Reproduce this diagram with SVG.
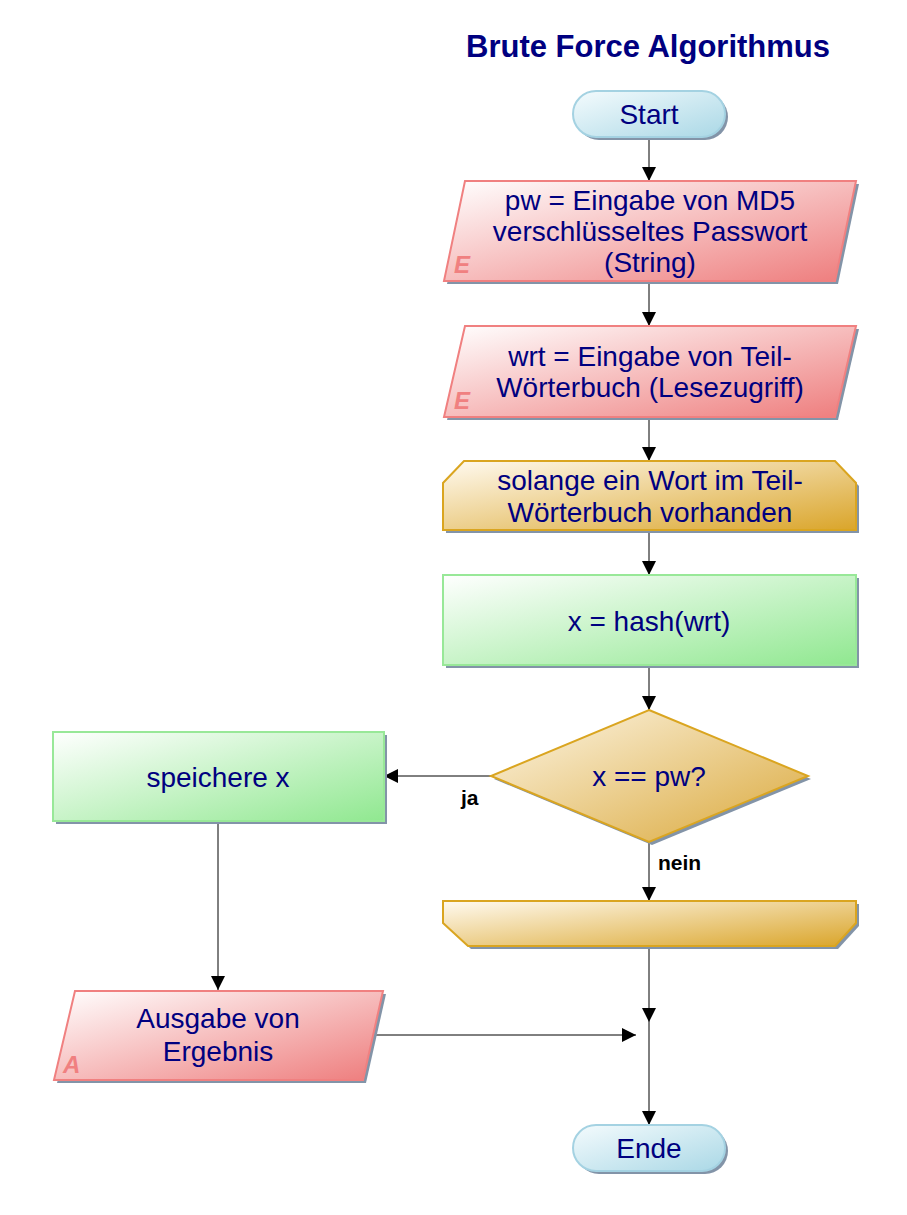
<svg xmlns="http://www.w3.org/2000/svg" width="907" height="1215" viewBox="0 0 907 1215">
  <defs>
    <linearGradient id="gTerm" x1="0" y1="0" x2="1" y2="1">
      <stop offset="0" stop-color="#f4fbfd"/>
      <stop offset="1" stop-color="#aad8e6"/>
    </linearGradient>
    <linearGradient id="gIO" x1="0" y1="0" x2="1" y2="1">
      <stop offset="0" stop-color="#ffffff"/>
      <stop offset="1" stop-color="#ee7c7c"/>
    </linearGradient>
    <linearGradient id="gLoop" x1="0" y1="0" x2="1" y2="1">
      <stop offset="0" stop-color="#fffaf0"/>
      <stop offset="1" stop-color="#daa52a"/>
    </linearGradient>
    <linearGradient id="gProc" x1="0" y1="0" x2="1" y2="1">
      <stop offset="0" stop-color="#ffffff"/>
      <stop offset="1" stop-color="#90e890"/>
    </linearGradient>
    <linearGradient id="gDec" x1="0" y1="0" x2="1" y2="1">
      <stop offset="0" stop-color="#fdf6e6"/>
      <stop offset="1" stop-color="#daa83a"/>
    </linearGradient>
    <marker id="arrow" markerUnits="userSpaceOnUse" markerWidth="14" markerHeight="14" refX="14" refY="7" orient="auto">
      <path d="M0,0 L14,7 L0,14 Z" fill="#000"/>
    </marker>
  </defs>
  <style>
    .txt { font-family: "Liberation Sans", Arial, sans-serif; font-size: 28px; fill: #000080; text-anchor: middle; }
    .title { font-family: "Liberation Sans", Arial, sans-serif; font-size: 31px; font-weight: bold; fill: #000080; text-anchor: middle; }
    .lbl { font-family: "Liberation Sans", Arial, sans-serif; font-size: 21px; font-weight: bold; fill: #000; }
    .mark { font-family: "Liberation Sans", Arial, sans-serif; font-size: 24px; font-weight: bold; font-style: italic; fill: #f08080; }
    .shadow { fill: #8394a8; }
    .term { fill: url(#gTerm); stroke: #a4d2e2; stroke-width: 2; }
    .io { fill: url(#gIO); stroke: #f08080; stroke-width: 2; }
    .loop { fill: url(#gLoop); stroke: #daa520; stroke-width: 2; }
    .proc { fill: url(#gProc); stroke: #98e898; stroke-width: 2; }
    .dec { fill: url(#gDec); stroke: #daa520; stroke-width: 2; }
    .conn { fill: none; stroke: #000; stroke-width: 1; }
  </style>

  <rect width="907" height="1215" fill="#ffffff"/>

  <text class="title" x="648" y="57">Brute Force Algorithmus</text>

  <g id="connectors">
    <path class="conn" d="M649,137 V181" marker-end="url(#arrow)"/>
    <path class="conn" d="M649,281 V326" marker-end="url(#arrow)"/>
    <path class="conn" d="M649,417 V461" marker-end="url(#arrow)"/>
    <path class="conn" d="M649,530 V575" marker-end="url(#arrow)"/>
    <path class="conn" d="M649,665 V710" marker-end="url(#arrow)"/>
    <path class="conn" d="M491,776 H384" marker-end="url(#arrow)"/>
    <path class="conn" d="M649,842 V901" marker-end="url(#arrow)"/>
    <path class="conn" d="M218,821 V990" marker-end="url(#arrow)"/>
    <path class="conn" d="M649,946 V1022" marker-end="url(#arrow)"/>
    <path class="conn" d="M649,1022 V1125" marker-end="url(#arrow)"/>
    <path class="conn" d="M373,1035 H636" marker-end="url(#arrow)"/>
    <text class="lbl" x="461" y="805">ja</text>
    <text class="lbl" x="658" y="870">nein</text>
  </g>

  <g id="start">
    <rect class="shadow" x="576" y="94" width="152" height="46" rx="23"/>
    <rect class="term" x="573" y="91" width="152" height="46" rx="23"/>
    <text class="txt" x="649" y="124">Start</text>
  </g>

  <g id="input-pw">
    <polygon class="shadow" points="468,184 859,184 838,284 447,284"/>
    <polygon class="io" points="465,181 856,181 835,281 444,281"/>
    <text class="mark" x="454" y="273">E</text>
    <text class="txt" x="650" y="210">pw = Eingabe von MD5</text>
    <text class="txt" x="650" y="241">verschlüsseltes Passwort</text>
    <text class="txt" x="650" y="272">(String)</text>
  </g>

  <g id="input-wrt">
    <polygon class="shadow" points="468,329 859,329 838,420 447,420"/>
    <polygon class="io" points="465,326 856,326 835,417 444,417"/>
    <text class="mark" x="454" y="409">E</text>
    <text class="txt" x="650" y="366">wrt = Eingabe von Teil-</text>
    <text class="txt" x="650" y="397">Wörterbuch (Lesezugriff)</text>
  </g>

  <g id="loop-start">
    <polygon class="shadow" points="467,464 838,464 859,486 859,533 446,533 446,486"/>
    <polygon class="loop" points="464,461 835,461 856,483 856,530 443,530 443,483"/>
    <text class="txt" x="650" y="490">solange ein Wort im Teil-</text>
    <text class="txt" x="650" y="522">Wörterbuch vorhanden</text>
  </g>

  <g id="hash">
    <rect class="shadow" x="446" y="578" width="413" height="90"/>
    <rect class="proc" x="443" y="575" width="413" height="90"/>
    <text class="txt" x="649" y="631">x = hash(wrt)</text>
  </g>

  <g id="decision">
    <polygon class="shadow" points="652,713 811,779 652,845 494,779"/>
    <polygon class="dec" points="649,710 808,776 649,842 491,776"/>
    <text class="txt" x="649" y="786">x == pw?</text>
  </g>

  <g id="store">
    <rect class="shadow" x="56" y="735" width="331" height="89"/>
    <rect class="proc" x="53" y="732" width="331" height="89"/>
    <text class="txt" x="218" y="787">speichere x</text>
  </g>

  <g id="loop-end">
    <polygon class="shadow" points="446,904 859,904 859,926 838,949 471,949 446,926"/>
    <polygon class="loop" points="443,901 856,901 856,923 835,946 468,946 443,923"/>
  </g>

  <g id="output">
    <polygon class="shadow" points="78,994 386,994 366,1083 57,1083"/>
    <polygon class="io" points="75,991 383,991 363,1080 54,1080"/>
    <text class="mark" x="63" y="1073">A</text>
    <text class="txt" x="218" y="1028">Ausgabe von</text>
    <text class="txt" x="218" y="1061">Ergebnis</text>
  </g>

  <g id="end">
    <rect class="shadow" x="576" y="1128" width="152" height="46" rx="23"/>
    <rect class="term" x="573" y="1125" width="152" height="46" rx="23"/>
    <text class="txt" x="649" y="1158">Ende</text>
  </g>
</svg>
